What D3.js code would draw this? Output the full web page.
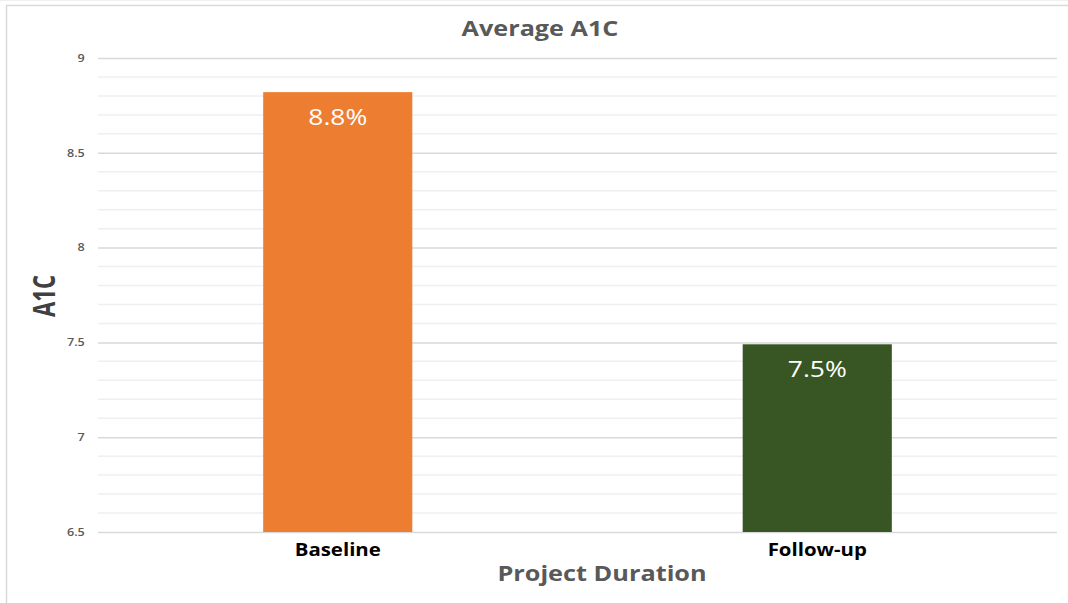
<!DOCTYPE html>
<html><head><meta charset="utf-8">
<script src="https://cdn.jsdelivr.net/npm/d3@7"></script>
<style>
html,body{margin:0;padding:0;background:#fff;}
svg{display:block;font-family:"Open Sans",sans-serif;}
</style></head>
<body><svg id="c" width="1068" height="603"></svg>
<script>
const categories = ["Baseline", "Follow-up"];
const values = [8.82, 7.49];
const valueLabels = ["8.8%", "7.5%"];
const barColors = ["#ED7D31", "#375623"];
const yTicks = [6.5, 7, 7.5, 8, 8.5, 9];
const yMinorTicks = [6.6,6.7,6.8,6.9,7.1,7.2,7.3,7.4,7.6,7.7,7.8,7.9,8.1,8.2,8.3,8.4,8.6,8.7,8.8,8.9];

const svg = d3.select("#c");
const m = {left: 98, right: 1057, top: 58, bottom: 532};
const sx = 1.2; // horizontal stretch of the reference text

// chart border
svg.append("rect").attr("x", 6.5).attr("y", 5.5).attr("width", 1080).attr("height", 620)
  .attr("fill", "#fff").attr("stroke", "#d9d9d9").attr("stroke-width", 1.5);
svg.append("line").attr("x1",0).attr("x2",1068).attr("y1",0.5).attr("y2",0.5).attr("stroke","#f0f0f0");

const x = d3.scaleBand().domain(categories).range([m.left, m.right])
  .paddingInner(0.689).paddingOuter(0.3445);
const y = d3.scaleLinear().domain([6.5, 9]).range([m.bottom, m.top]);

// minor gridlines
svg.append("g").selectAll("line").data(yMinorTicks).join("line")
  .attr("x1", m.left).attr("x2", m.right)
  .attr("y1", d => y(d)).attr("y2", d => y(d))
  .attr("stroke", "#efefef").attr("stroke-width", 1.5);

// major gridlines via axis
const yAxis = d3.axisLeft(y).tickValues(yTicks).tickFormat(d => d3.format("")(d))
  .tickSize(-(m.right - m.left)).tickPadding(11);
const ga = svg.append("g").attr("transform", `translate(${m.left},0)`).call(yAxis);
ga.select(".domain").remove();
ga.selectAll(".tick line").attr("stroke", "#d9d9d9").attr("stroke-width", 1.5);
ga.selectAll(".tick text").attr("fill", "#595959").attr("font-size", 10.5).attr("font-weight", 600)
  .attr("font-family", "Open Sans, sans-serif").attr("transform", `scale(${sx},1)`);

// bars
svg.append("g").selectAll("rect").data(categories).join("rect")
  .attr("x", d => x(d)).attr("width", x.bandwidth())
  .attr("y", (d, i) => y(values[i])).attr("height", (d, i) => y(6.5) - y(values[i]))
  .attr("fill", (d, i) => barColors[i]);

// value labels
svg.append("g").selectAll("text").data(categories).join("text")
  .attr("transform", (d, i) => `translate(${x(d) + x.bandwidth() / 2},${y(values[i]) + 33}) scale(${sx},1)`)
  .attr("text-anchor", "middle").attr("fill", "#fff").attr("font-size", 22)
  .text((d, i) => valueLabels[i]);

// x axis
const xAxis = d3.axisBottom(x).tickSize(0).tickPadding(12);
const gx = svg.append("g").attr("transform", `translate(0,${m.bottom})`).call(xAxis);
gx.select(".domain").remove();
gx.selectAll(".tick text").attr("fill", "#000").attr("font-size", 17).attr("font-weight", 700)
  .attr("font-family", "Open Sans, sans-serif").attr("transform", `scale(${sx},1)`);

// titles
svg.append("text").attr("transform", `translate(540,36) scale(${sx},1)`).attr("text-anchor", "middle")
  .attr("fill", "#595959").attr("font-size", 21).attr("font-weight", 700).text("Average A1C");
svg.append("text").attr("transform", `translate(602,581) scale(1.15,1)`).attr("text-anchor", "middle")
  .attr("fill", "#595959").attr("font-size", 22).attr("font-weight", 700).text("Project Duration");
svg.append("text").attr("transform", "translate(55,296) rotate(-90) scale(0.85,1.2)").attr("text-anchor", "middle")
  .attr("fill", "#404040").attr("font-size", 26).attr("font-weight", 700).text("A1C");
</script></body></html>
